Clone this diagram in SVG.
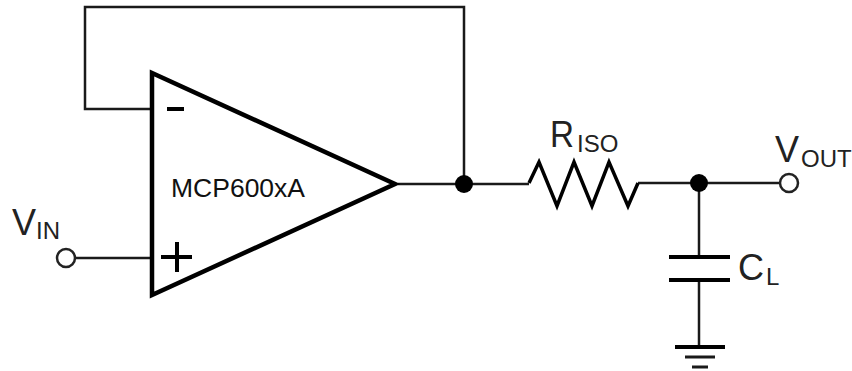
<svg xmlns="http://www.w3.org/2000/svg" width="852" height="371" viewBox="0 0 852 371">
<style>
.w{fill:none;stroke:#1a1a1a;stroke-width:2.5}
.t{fill:none;stroke:#000;stroke-width:4}
.d{fill:#000;stroke:none}
.o{fill:#fff;stroke:#222;stroke-width:2.5}
text{font-family:"Liberation Sans",Arial,sans-serif;fill:#222}
.b{font-size:36px}
.s{font-size:24px}
</style>
<rect width="852" height="371" fill="#fff"/>
<g id="connectors">
<path class="w" d="M152 109H85V7H464V184"/>
<path class="w" d="M75 258H152"/>
<path class="w" d="M398 184H529"/>
<path class="w" d="M638 183H780"/>
<path class="w" d="M699 183V257"/>
<path class="w" d="M699 280V347"/>
</g>
<g id="opamp">
<path class="t" style="stroke-width:4.5" d="M152 73V295L395 184Z" stroke-linejoin="miter"/>
<path class="t" d="M167 109H184M161 257H192M177 242V272"/>
<text x="171" y="197" style="font-size:26.5px;fill:#111">MCP600xA</text>
</g>
<g id="vin">
<circle class="o" cx="66" cy="258" r="9"/>
<text class="b" x="12" y="235">V</text>
<text class="s" x="36" y="239">IN</text>
</g>
<g id="riso">
<path class="t" style="stroke-width:3.5" d="M529 183L539 162L557 206L574 162L592 206L609 162L628 206L638 183"/>
<text class="b" x="550" y="147" textLength="24" lengthAdjust="spacingAndGlyphs">R</text>
<text class="s" x="577" y="152">ISO</text>
</g>
<g id="junction1"><circle class="d" cx="464" cy="184" r="9"/></g>
<g id="junction2"><circle class="d" cx="699" cy="183" r="9"/></g>
<g id="vout">
<circle class="o" cx="789" cy="183" r="9"/>
<text class="b" x="775" y="162">V</text>
<text class="s" x="801" y="167">OUT</text>
</g>
<g id="cl">
<path class="t" d="M669 257H730M669 280H730"/>
<text class="b" x="738" y="280" textLength="26" lengthAdjust="spacingAndGlyphs">C</text>
<text class="s" x="766" y="285">L</text>
</g>
<g id="ground">
<path class="t" d="M675 347H725"/>
<path class="w" style="stroke-width:3" d="M685 357H715M692 367H708"/>
</g>
</svg>
